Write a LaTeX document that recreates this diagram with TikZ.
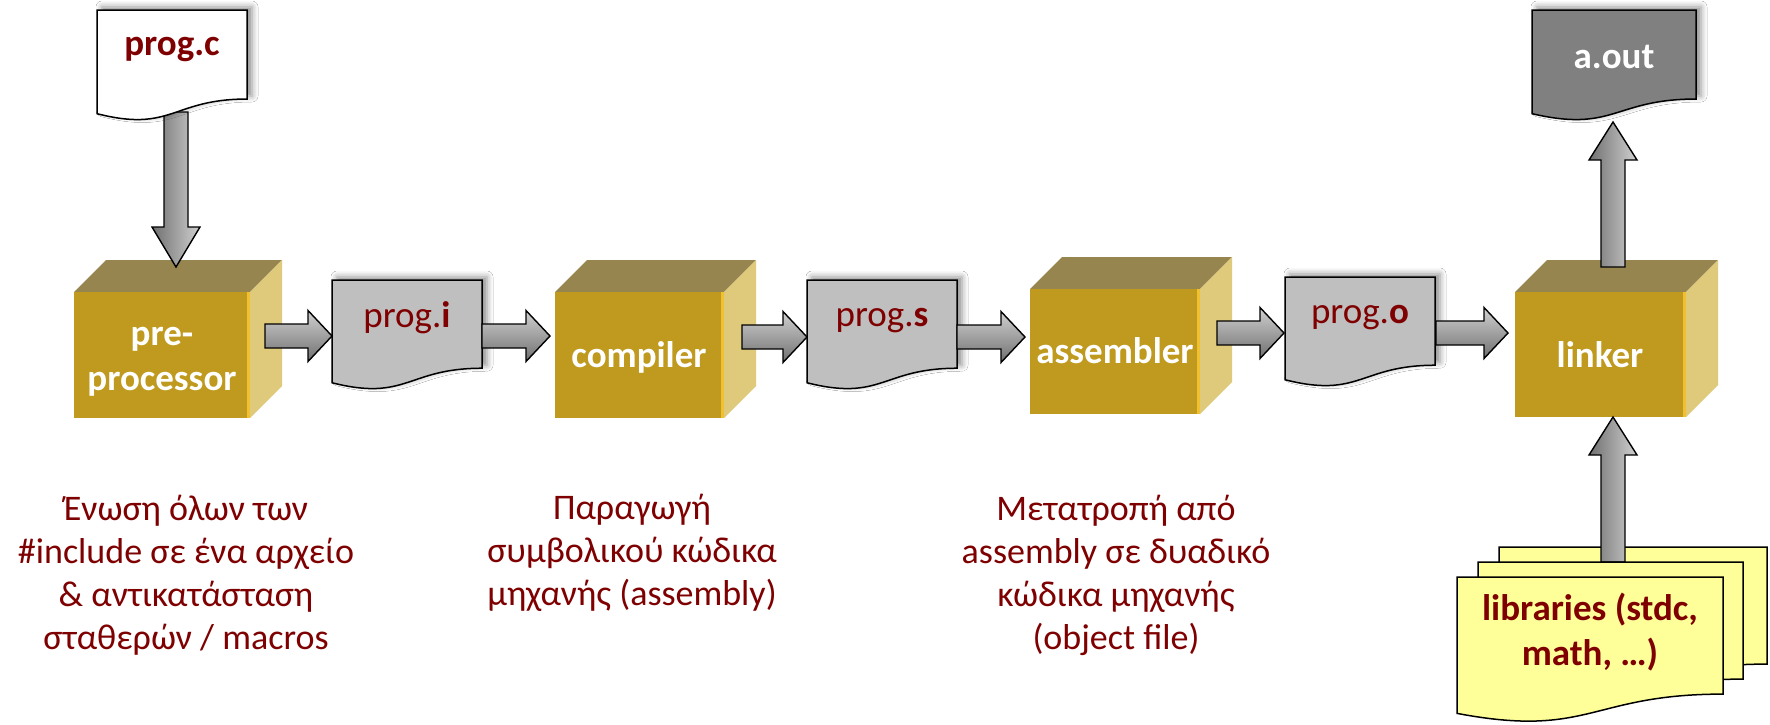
\documentclass[tikz,border=0pt]{standalone}
\usepackage{fontspec}
\setmainfont{Carlito}
\usetikzlibrary{calc,shadows.blur}
\definecolor{cubefront}{HTML}{BF9A1E}
\definecolor{cubetop}{HTML}{978550}
\definecolor{cuberight}{HTML}{DFC97A}
\definecolor{cubeedge}{HTML}{F0C030}
\definecolor{docgray}{HTML}{BFBFBF}
\definecolor{outgray}{HTML}{808080}
\definecolor{libyellow}{HTML}{FFFF99}
\definecolor{darkred}{HTML}{7F0000}
\definecolor{arrlight}{HTML}{D0D0D0}
\definecolor{arrdark}{HTML}{707070}
\tikzset{
  docshape/.style={draw=black, line width=1.5pt,
    blur shadow={shadow xshift=5pt, shadow yshift=3pt, shadow blur radius=6pt, shadow opacity=45}},
  libshape/.style={draw=black, line width=1.5pt, fill=libyellow},
  harrow/.style={draw=black, line width=1.4pt, top color=arrlight, bottom color=arrdark},
  varrow/.style={draw=black, line width=1.4pt, left color=arrdark, right color=arrlight},
  doclabel/.style={inner sep=0pt, text=darkred, font=\fontsize{37}{45}\selectfont},
  cubelabel/.style={inner sep=0pt, text=white, font=\fontsize{37}{45}\selectfont\bfseries},
  desc/.style={inner sep=0pt, text=darkred, font=\fontsize{36}{43}\selectfont},
}
% document shape: left, top, width, height
\newcommand\docpath[4]{(#1,#2) -- (#1+#3,#2) -- (#1+#3,#2+0.802*#4) .. controls (#1+0.5*#3,#2+0.802*#4) and (#1+0.5*#3,#2+1.107*#4) .. (#1,#2+0.934*#4) -- cycle}
% cube: left, top, width, height of the front face
\newcommand\cubebox[4]{%
  \fill[cubetop] (#1,#2) -- (#1+32,#2-32) -- (#1+#3+32,#2-32) -- (#1+#3,#2) -- cycle;
  \fill[cuberight] (#1+#3,#2) -- (#1+#3+32,#2-32) -- (#1+#3+32,#2+#4-32) -- (#1+#3,#2+#4) -- cycle;
  \fill[cubefront] (#1,#2) rectangle (#1+#3,#2+#4);
  \fill[cubeedge] (#1+#3-3,#2) rectangle (#1+#3,#2+#4);
}
\newcommand\harr[2]{\path[harrow] let \p1=(#1), \p2=(#2) in
  (\x1,\y1+12pt) -- (\x2-24pt,\y1+12pt) -- (\x2-24pt,\y1+25.5pt) -- (\x2,\y1) --
  (\x2-24pt,\y1-25.5pt) -- (\x2-24pt,\y1-12pt) -- (\x1,\y1-12pt) -- cycle;}
\newcommand\darr[2]{\path[varrow] let \p1=(#1), \p2=(#2) in
  (\x1-12pt,\y1) -- (\x1-12pt,\y2+40pt) -- (\x1-24pt,\y2+40pt) -- (\x1,\y2) --
  (\x1+24pt,\y2+40pt) -- (\x1+12pt,\y2+40pt) -- (\x1+12pt,\y1) -- cycle;}
\newcommand\uarr[2]{\path[varrow] let \p1=(#1), \p2=(#2) in
  (\x1-12pt,\y1) -- (\x1-12pt,\y2-38pt) -- (\x1-24pt,\y2-38pt) -- (\x1,\y2) --
  (\x1+24pt,\y2-38pt) -- (\x1+12pt,\y2-38pt) -- (\x1+12pt,\y1) -- cycle;}
\begin{document}
\begin{tikzpicture}[x=1pt,y=-1pt]
\useasboundingbox[fill=white] (0,0) rectangle (1770,724);

% cubes
\cubebox{74}{292}{176}{126}
\cubebox{555}{292}{169}{126}
\cubebox{1030}{289}{170}{125}
\cubebox{1515}{292}{171}{125}

% intermediate files
\path[docshape, fill=docgray] \docpath{332}{280}{150}{110};
\path[docshape, fill=docgray] \docpath{807}{280}{150}{110};
\path[docshape, fill=docgray] \docpath{1285}{277}{150}{110};

% arrow end points
\coordinate (a1s) at (265,336);  \coordinate (a1e) at (332,336);
\coordinate (a2s) at (482,336);  \coordinate (a2e) at (550,336);
\coordinate (a3s) at (742,337);  \coordinate (a3e) at (807,337);
\coordinate (a4s) at (957,337);  \coordinate (a4e) at (1025,337);
\coordinate (a5s) at (1217,333); \coordinate (a5e) at (1284,333);
\coordinate (a6s) at (1436,333); \coordinate (a6e) at (1508,333);
\coordinate (v1s) at (176,112);  \coordinate (v1e) at (176,267);
\coordinate (v2s) at (1613,267); \coordinate (v2e) at (1613,122);
\coordinate (v3s) at (1613,562); \coordinate (v3e) at (1613,417);

\harr{a1s}{a1e}
\harr{a2s}{a2e}
\harr{a3s}{a3e}
\harr{a4s}{a4e}
\harr{a5s}{a5e}
\harr{a6s}{a6e}

\darr{v1s}{v1e}
\path[docshape, fill=white] \docpath{97}{10}{150}{111};

\uarr{v2s}{v2e}
\path[docshape, fill=outgray] \docpath{1532}{10}{164}{111};

% libraries
\path[libshape] \docpath{1499}{547}{268}{146};
\uarr{v3s}{v3e}
\path[libshape] \docpath{1478}{562}{265}{146};
\path[libshape] \docpath{1457}{577}{266}{146};

% labels
\node[doclabel, anchor=base] (progc) at (172,55) {\textbf{prog.c}};
\node[doclabel, anchor=base] (progi) at (407,327) {prog.\textbf{i}};
\node[doclabel, anchor=base] (progs) at (882,326) {prog.\textbf{s}};
\node[doclabel, anchor=base] (progo) at (1360,323) {prog.\textbf{o}};
\node[cubelabel, anchor=base] (aout) at (1614,68) {a.out};

\node[cubelabel, anchor=base] (pre) at (162,345) {\begin{tabular}[t]{@{}c@{}}pre-\\processor\end{tabular}};
\node[cubelabel, anchor=base] (comp) at (639,367) {compiler};
\node[cubelabel, anchor=base] (asm) at (1115,363) {assembler};
\node[cubelabel, anchor=base] (link) at (1600,367) {linker};

\node[doclabel, anchor=base, font=\fontsize{37}{45}\selectfont\bfseries] (libs) at (1590,620)
  {\begin{tabular}[t]{@{}c@{}}libraries (stdc,\\math, …)\end{tabular}};

\node[desc, anchor=base] (d1) at (186,520) {\begin{tabular}[t]{@{}c@{}}Ένωση όλων των\\\#include σε ένα αρχείο\\\& αντικατάσταση\\σταθερών / macros\end{tabular}};
\node[desc, anchor=base] (d2) at (632,519) {\begin{tabular}[t]{@{}c@{}}Παραγωγή\\συμβολικού κώδικα\\μηχανής (assembly)\end{tabular}};
\node[desc, anchor=base] (d3) at (1116,520) {\begin{tabular}[t]{@{}c@{}}Μετατροπή από\\assembly σε δυαδικό\\κώδικα μηχανής\\(object file)\end{tabular}};
\end{tikzpicture}
\end{document}
